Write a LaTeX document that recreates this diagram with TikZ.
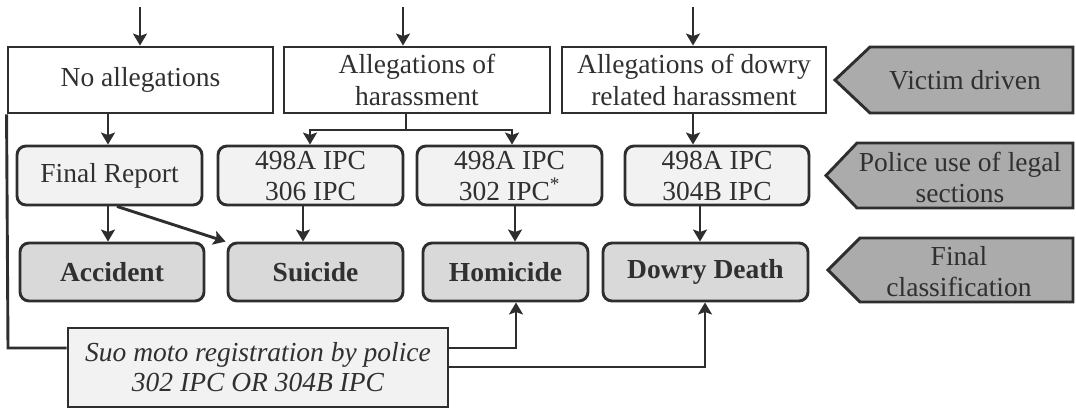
\documentclass[tikz,border=0pt]{standalone}
\usepackage{fontspec}
\setmainfont{Liberation Serif}
\usetikzlibrary{arrows.meta}
\definecolor{ln}{HTML}{2E2E2E}
\definecolor{txt}{HTML}{303030}
\definecolor{pent}{HTML}{ABABAB}
\definecolor{lite}{HTML}{F2F2F2}
\definecolor{mid}{HTML}{D9D9D9}
\tikzset{
  base/.style={draw=ln, line width=2.9pt, inner sep=0pt, align=center, text=txt,
     font=\fontsize{27.5}{32}\selectfont},
  plainbox/.style={base, fill=white, minimum height=66pt},
  secbox/.style={base, fill=lite, rounded corners=9pt, minimum height=59pt,
     font=\fontsize{27.5}{31}\selectfont},
  clsbox/.style={base, fill=mid, rounded corners=9pt, minimum height=58pt,
     font=\fontsize{27.5}{32}\selectfont\bfseries},
  suobox/.style={base, fill=lite, minimum width=380pt, minimum height=79pt,
     font=\fontsize{27.5}{30}\selectfont\itshape},
  pentshape/.style={draw=ln, line width=2.9pt, fill=pent, line join=miter},
  penttext/.style={text=txt, align=center, font=\fontsize{27.5}{31}\selectfont},
  conn/.style={draw=ln, line width=2.9pt},
  arr/.style={conn, -{Stealth[length=12pt,width=14pt,inset=2.5pt]}}
}
\begin{document}
\begin{tikzpicture}[x=1pt,y=-1pt]
\useasboundingbox (0,0) rectangle (1076,408);
% row 1
\node[plainbox, minimum width=265pt] (na) at (140.5,80) {No allegations};
\node[plainbox, minimum width=266pt] (ah) at (417,80) {Allegations of\\harassment};
\node[plainbox, minimum width=264pt] (ad) at (694,80) {Allegations of dowry\\related harassment};
% row 2
\node[secbox, minimum width=185pt] (fr) at (109.5,175.5) {Final Report};
\node[secbox, minimum width=185pt] (s306) at (310.5,175.5) {498A IPC\\306 IPC};
\node[secbox, minimum width=185pt] (s302) at (509.5,175.5) {498A IPC\\302 IPC\textsuperscript{*}};
\node[secbox, minimum width=184pt] (s304) at (717,175.5) {498A IPC\\304B IPC};
% row 3
\node[clsbox, minimum width=184pt] (acc) at (112,272) {Accident};
\node[clsbox, minimum width=175pt] (sui) at (315.5,272) {Suicide};
\node[clsbox, minimum width=165pt] (hom) at (505.5,272) {Homicide};
\node[clsbox, minimum width=205pt] (dd) at (705.5,272) {Dowry Death};
% bottom
\node[suobox] (suo) at (258,367.5) {Suo moto registration by police\\302 IPC OR 304B IPC};
% pentagons
\draw[pentshape] (835,80) -- (870,47) -- (1073,47) -- (1073,113) -- (870,113) -- cycle;
\node[penttext] (vd) at (965,80) {Victim driven};
\draw[pentshape] (826,175.5) -- (857,143) -- (1073,143) -- (1073,208) -- (857,208) -- cycle;
\node[penttext] (pu) at (960,177) {Police use of legal\\sections};
\draw[pentshape] (828,270) -- (860,238) -- (1073,238) -- (1073,302) -- (860,302) -- cycle;
\node[penttext] (fc) at (959,272) {Final\\classification};
% top inputs
\coordinate (t1) at (140,7);
\coordinate (t2) at (403,7);
\coordinate (t3) at (693,7);
\draw[arr] (t1) -- (t1 |- na.north);
\draw[arr] (t2) -- (t2 |- ah.north);
\draw[arr] (t3) -- (t3 |- ad.north);
% row1 -> row2
\draw[arr] (108,0 |- na.south) -- (108,0 |- fr.north);
\coordinate (hj) at (406,130);
\coordinate (hl) at (310,130);
\coordinate (hr) at (512,130);
\draw[conn] (hj |- ah.south) -- (hj);
\draw[conn] ([xshift=-1.45pt]hl) -- ([xshift=1.45pt]hr);
\draw[arr] (hl) -- (hl |- s306.north);
\draw[arr] (hr) -- (hr |- s302.north);
\draw[arr] (693,0 |- ad.south) -- (693,0 |- s304.north);
% row2 -> row3
\draw[arr] (108,0 |- fr.south) -- (108,0 |- acc.north);
\draw[arr] (117,0 |- fr.south) -- ([xshift=-1pt]sui.north west);
\draw[arr] (303,0 |- s306.south) -- (303,0 |- sui.north);
\draw[arr] (515,0 |- s302.south) -- (515,0 |- hom.north);
\draw[arr] (700,0 |- s304.south) -- (700,0 |- dd.north);
% suo moto
\draw[conn] (na.south west) -- (8,348) -- (suo.west |- 0,348);
\draw[arr] (suo.east |- 0,348) -- (516,348) -- (516,0 |- hom.south);
\draw[arr] (suo.east |- 0,367) -- (705,367) -- (705,0 |- dd.south);
\end{tikzpicture}
\end{document}
